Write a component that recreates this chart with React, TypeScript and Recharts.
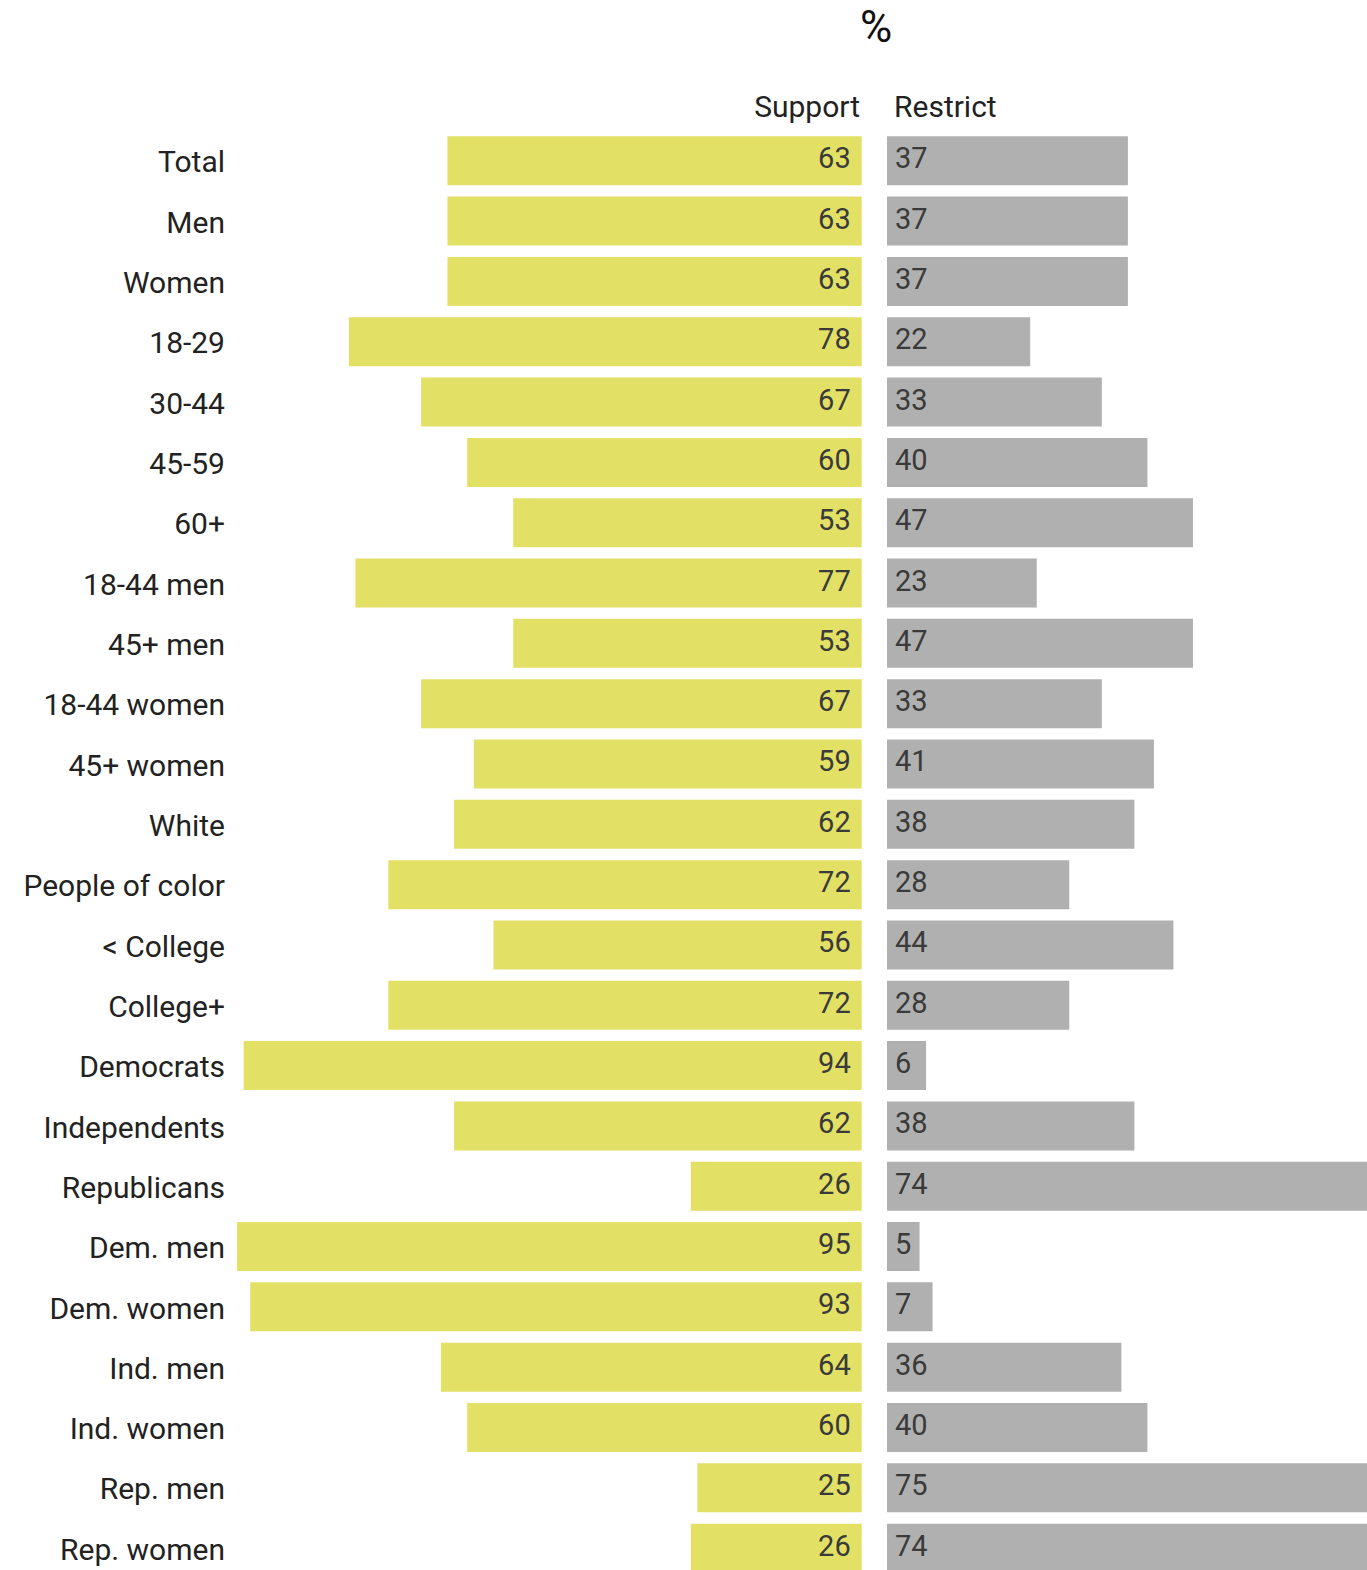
import { BarChart, Bar, XAxis, YAxis, LabelList } from 'recharts';

const categories = [
    'Total', 'Men', 'Women', '18-29', '30-44', '45-59', '60+', '18-44 men', '45+ men',
    '18-44 women', '45+ women', 'White', 'People of color', '< College', 'College+',
    'Democrats', 'Independents', 'Republicans', 'Dem. men', 'Dem. women', 'Ind. men',
    'Ind. women', 'Rep. men', 'Rep. women',
];
const support = [63, 63, 63, 78, 67, 60, 53, 77, 53, 67, 59, 62, 72, 56, 72, 94, 62, 26, 95, 93, 64, 60, 25, 26];
const restrict = [37, 37, 37, 22, 33, 40, 47, 23, 47, 33, 41, 38, 28, 44, 28, 6, 38, 74, 5, 7, 36, 40, 75, 74];

const data = categories.map((name, i) => ({ name, support: support[i], restrict: restrict[i] }));

const FONT = 'Roboto, sans-serif';
const PLOT_TOP = 130.3;
const ROW = 60.32;
const PLOT_H = ROW * categories.length;

// eslint-disable-next-line @typescript-eslint/no-explicit-any
function CategoryTick(props: any) {
    const { y, payload } = props;
    return (
        <text x={225} y={y + 12} textAnchor="end" fontSize={30} fontFamily={FONT} fill="#222">
            {payload.value}
        </text>
    );
}

// eslint-disable-next-line @typescript-eslint/no-explicit-any
function SupportLabel(props: any) {
    const { x, y, width, value } = props;
    const right = Math.max(x, x + width);
    return (
        <text x={right - 11} y={y + 32} textAnchor="end" fontSize={29} fontFamily={FONT} fill="#3a3a3a">
            {value}
        </text>
    );
}

// eslint-disable-next-line @typescript-eslint/no-explicit-any
function RestrictLabel(props: any) {
    const { x, y, width, value } = props;
    const left = Math.min(x, x + width);
    return (
        <text x={left + 8} y={y + 32} textAnchor="start" fontSize={29} fontFamily={FONT} fill="#3a3a3a">
            {value}
        </text>
    );
}

export default function App() {
    return (
        <div
            style={{
                position: 'absolute',
                left: 0,
                top: 0,
                width: 1367,
                height: 1570,
                overflow: 'hidden',
                background: '#fff',
                fontFamily: FONT,
            }}
        >
            <svg width={1367} height={130} style={{ position: 'absolute', left: 0, top: 0 }}>
                <text x={876} y={42} textAnchor="middle" fontSize={44} fontFamily={FONT} fill="#111">%</text>
                <text x={860} y={117} textAnchor="end" fontSize={30} fontFamily={FONT} fill="#222">Support</text>
                <text x={894} y={117} textAnchor="start" fontSize={30} fontFamily={FONT} fill="#222">Restrict</text>
            </svg>

            {/* Support side, bars grow to the left */}
            <div style={{ position: 'absolute', left: 0, top: 0 }}>
                <BarChart
                    width={861.7}
                    height={PLOT_TOP + PLOT_H}
                    data={data}
                    layout="vertical"
                    margin={{ top: PLOT_TOP, right: 0, bottom: 0, left: 0 }}
                >
                    <XAxis type="number" domain={[0, 96]} reversed hide />
                    <YAxis
                        type="category"
                        dataKey="name"
                        width={230.5}
                        axisLine={false}
                        tickLine={false}
                        tick={<CategoryTick />}
                        interval={0}
                    />
                    <Bar dataKey="support" fill="#e3e066" barSize={49} isAnimationActive={false}>
                        <LabelList dataKey="support" content={<SupportLabel />} />
                    </Bar>
                </BarChart>
            </div>

            {/* Restrict side, bars grow to the right */}
            <div style={{ position: 'absolute', left: 886.7, top: 0 }}>
                <BarChart
                    width={651}
                    height={PLOT_TOP + PLOT_H}
                    data={data}
                    layout="vertical"
                    margin={{ top: PLOT_TOP, right: 0, bottom: 0, left: 0 }}
                >
                    <XAxis type="number" domain={[0, 100]} hide />
                    <YAxis type="category" dataKey="name" hide />
                    <Bar dataKey="restrict" fill="#b0b0b0" barSize={49} isAnimationActive={false}>
                        <LabelList dataKey="restrict" content={<RestrictLabel />} />
                    </Bar>
                </BarChart>
            </div>
        </div>
    );
}
